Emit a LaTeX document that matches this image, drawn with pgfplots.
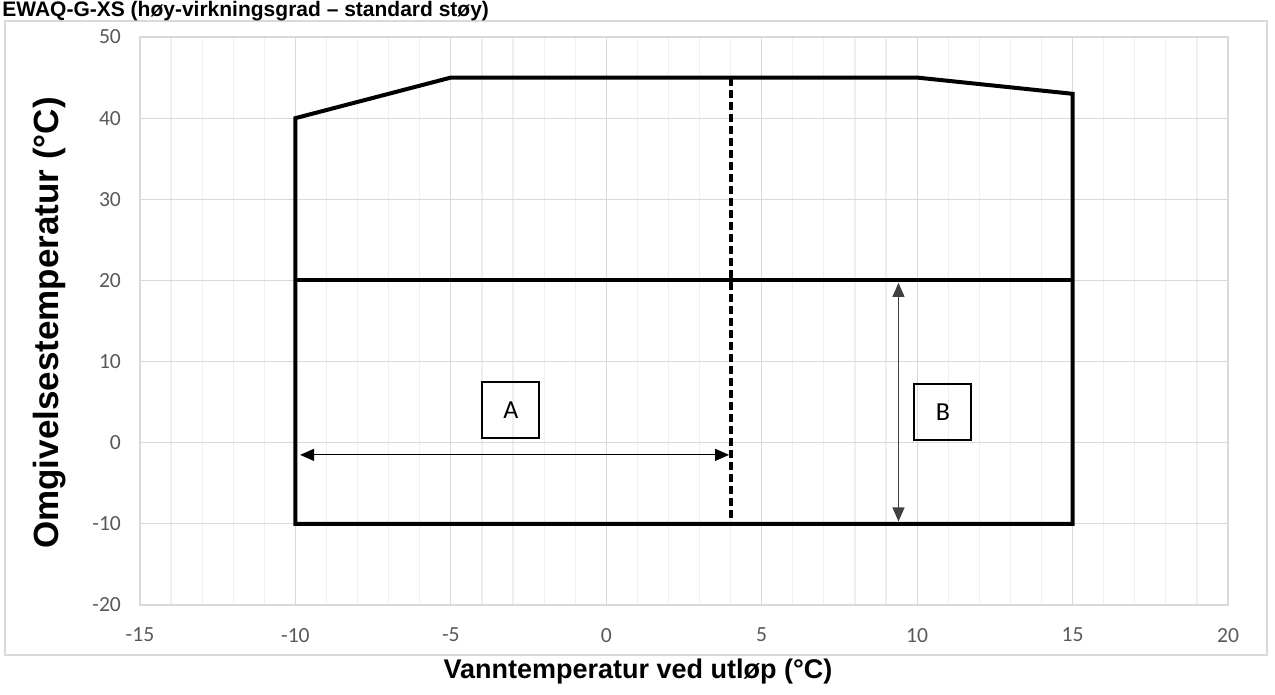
\documentclass[border=0pt]{standalone}
\usepackage{pgfplots}
\pgfplotsset{compat=1.18}
\usepackage{fontspec}
\setmainfont{Liberation Sans}
\newfontfamily\calibri{Carlito}
\usetikzlibrary{arrows.meta}
\definecolor{gridmaj}{HTML}{D9D9D9}
\definecolor{gridmin}{HTML}{EFEFEF}
\definecolor{ticklab}{HTML}{595959}
\begin{document}
\begin{tikzpicture}[x=1pt,y=1pt]
\draw[gridmaj, line width=0.75pt] (2.5,337) rectangle (633.5,20);
\begin{axis}[
  at={(70pt,45pt)}, anchor=south west,
  width=544pt, height=284pt, scale only axis,
  xmin=-15, xmax=20, ymin=-20, ymax=50,
  xtick={-15,-10,...,20}, ytick={-20,-10,...,50},
  minor x tick num=4,
  grid=both,
  major grid style={gridmaj, line width=0.6pt},
  minor grid style={gridmin, line width=0.6pt},
  axis line style={gridmaj, line width=0.6pt},
  major tick length=0pt, minor tick length=0pt,
  tick label style={font=\calibri\fontsize{10.8}{13}\selectfont, text=ticklab},
  /pgf/number format/assume math mode=true,
  xticklabel style={yshift=-8pt},
  yticklabel style={xshift=-6pt},
  clip=false,
]
\addplot[black, line width=2pt, line join=miter] coordinates {(0,-10) (-10,-10) (-10,40) (-5,45) (10,45) (15,43) (15,-10) (0,-10)};
\addplot[black, line width=2pt] coordinates {(-10,20) (15,20)};
\addplot[black, line width=2pt, dash pattern=on 4pt off 2pt] coordinates {(4,45) (4,-10)};
\addplot[black, line width=0.6pt, {Triangle[length=7pt,width=6pt]}-{Triangle[length=7pt,width=6pt]}] coordinates {(-9.85,-1.5) (3.95,-1.5)};
\addplot[black!75, line width=0.6pt, {Triangle[length=7pt,width=6pt]}-{Triangle[length=7pt,width=6pt]}] coordinates {(9.4,19.7) (9.4,-9.7)};
\node[draw=black, line width=1pt, minimum width=28.5pt, minimum height=28pt, inner sep=0pt, font=\calibri\fontsize{13}{15}\selectfont] at (axis cs:-3.07,4.03) {A};
\node[draw=black, line width=1pt, minimum width=28.5pt, minimum height=28pt, inner sep=0pt, font=\calibri\fontsize{13}{15}\selectfont] at (axis cs:10.83,3.8) {B};
\end{axis}
\node[font=\bfseries\fontsize{13.5}{16}\selectfont] at (319,11.5) {Vanntemperatur ved utløp (°C)};
\node[rotate=90, font=\bfseries\fontsize{17.5}{20}\selectfont] at (25,186) {Omgivelsestemperatur (°C)};
\node[anchor=base west, inner sep=0pt, font=\bfseries\fontsize{10.5}{13}\selectfont] at (1,339.2) {EWAQ-G-XS (høy-virkningsgrad – standard støy)};
\pgfresetboundingbox
\useasboundingbox (0,0) rectangle (637.5,347.5);
\end{tikzpicture}
\end{document}
